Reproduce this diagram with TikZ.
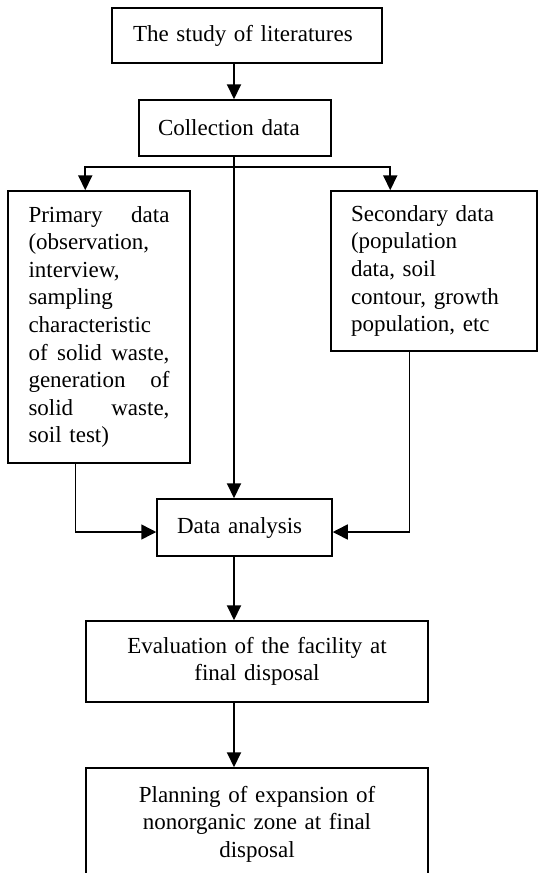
\documentclass[tikz,border=0pt]{standalone}
\usepackage{fontspec}
\setmainfont{Liberation Serif}
\usetikzlibrary{arrows.meta,calc}
\newcommand{\jline}[1]{\makebox[141pt][s]{#1}}
\begin{document}
\begin{tikzpicture}[x=1pt,y=-1pt,
  box/.style={draw,line width=1.5pt,rectangle,inner xsep=0pt,inner ysep=0pt,
    font=\fontsize{23}{27.6}\selectfont},
  arr/.style={line width=2pt,-{Triangle[width=14pt,length=15pt]}},
  sidearr/.style={line width=1.5pt,-{Triangle[width=15pt,length=15pt]}}]
\useasboundingbox (0,0) rectangle (538,873);
\clip (0,0) rectangle (538,873);

\node[box,minimum width=270pt,minimum height=55pt,text width=228pt,align=left] (lit) at (247,35.5) {The study of literatures};
\node[box,minimum width=192pt,minimum height=56pt,text width=154pt,align=left] (col) at (235,128) {Collection data};
\node[box,minimum width=182pt,minimum height=272pt,text width=141pt,align=left] (prim) at (99,327)
  {\jline{Primary\hfill data}\\(observation,\\interview,\\sampling\\characteristic\\\jline{of\hfill solid\hfill waste,}\\\jline{generation\hfill of}\\\jline{solid\hfill waste,}\\soil test)};
\node[box,minimum width=206pt,minimum height=160pt,text width=166pt,align=left] (sec) at (434,271)
  {Secondary data\\(population\\data, soil\\contour, growth\\population, etc};
\node[box,minimum width=175pt,minimum height=57pt,text width=135pt,align=left] (da) at (244.5,527.5) {Data analysis};
\node[box,minimum width=342pt,minimum height=81pt,text width=300pt,align=center] (ev) at (257,661.5) {Evaluation of the facility at\\final disposal};
\node[box,minimum width=342pt,minimum height=112pt,text width=300pt,align=center] (pl) at (257,824) {Planning of expansion of\\nonorganic zone at final\\disposal};

\coordinate (xc) at (234,0);
\coordinate (br) at (234,167);

\draw[arr] (lit.south -| xc) -- (col.north -| xc);
\draw[arr] (col.south -| xc) -- (da.north -| xc);
\draw[arr] (br) -| ($(prim.north west)+(78,0)$);
\draw[arr] (br) -| ($(sec.north west)+(60,0)$);
\draw[sidearr] ($(prim.south west)+(68,0)$) |- ($(da.west)+(0,4.5)$);
\draw[sidearr] ($(sec.south west)+(79,0)$) |- ($(da.east)+(0,4.5)$);
\draw[arr] (da.south -| xc) -- (ev.north -| xc);
\draw[arr] (ev.south -| xc) -- (pl.north -| xc);
\end{tikzpicture}
\end{document}
